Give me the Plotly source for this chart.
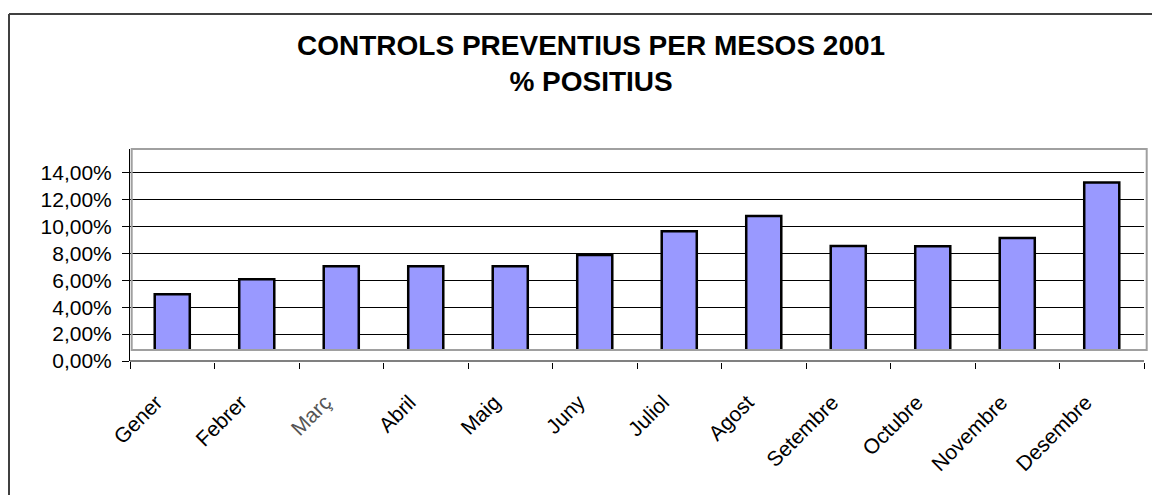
import plotly.graph_objects as go

months = ["Gener", "Febrer", "Març", "Abril", "Maig", "Juny", "Juliol",
          "Agost", "Setembre", "Octubre", "Novembre", "Desembre"]
positius = [0.0496, 0.0607, 0.0704, 0.0704, 0.0704, 0.0788, 0.0964,
            0.1078, 0.0855, 0.0852, 0.0914, 0.1326]
ytick_vals = [0, 0.02, 0.04, 0.06, 0.08, 0.10, 0.12, 0.14]

W, H = 1152, 495
L, R, T, B = 130, 1144, 149, 361   # plot area in pixels
PX_PER_UNIT = 1345.7               # pixels per 100% on the value axis


def px(x):
    return (x - L) / (R - L)


def py(y):
    return (B - y) / (B - T)


FONT = "Liberation Sans, Arial, sans-serif"

tick_text = [m if m != "Març" else '<span style="color:#555555">Març</span>' for m in months]

fig = go.Figure(go.Bar(
    x=months, y=positius,
    marker=dict(color="#9999FF", line=dict(color="black", width=2.5)),
))

fig.update_layout(
    width=W, height=H,
    margin=dict(l=L, r=W - R, t=T, b=H - B, pad=0),
    paper_bgcolor="white", plot_bgcolor="white",
    font=dict(family=FONT, size=21, color="black"),
    separators=",.",
    bargap=0.585,
    showlegend=False,
    shapes=[
        # outer chart frame (left and top edges visible)
        dict(type="line", xref="paper", yref="paper", x0=px(9), x1=px(9),
             y0=py(14), y1=py(H + 5), line=dict(color="#404040", width=2)),
        dict(type="line", xref="paper", yref="paper", x0=px(9), x1=px(W + 5),
             y0=py(14), y1=py(14), line=dict(color="#404040", width=2)),
        # white strip between plot-area box and category axis
        dict(type="rect", xref="paper", yref="paper", layer="above",
             x0=px(131), x1=px(1146), y0=py(363), y1=py(350),
             fillcolor="white", line=dict(width=0)),
        # category axis line
        dict(type="line", xref="paper", yref="paper", layer="above",
             x0=0, x1=1, y0=0, y1=0, line=dict(color="#808080", width=2)),
        # grey plot-area box
        dict(type="rect", xref="paper", yref="paper", layer="above",
             x0=px(131.7), x1=px(1146.7), y0=py(350), y1=py(149),
             line=dict(color="#A0A0A0", width=2)),
    ],
    annotations=[
        dict(text="<b>CONTROLS PREVENTIUS PER MESOS 2001<br>% POSITIUS</b>",
             xref="paper", yref="paper", x=px(591), y=py(63.5),
             xanchor="center", yanchor="middle", showarrow=False,
             font=dict(family=FONT, size=28, color="black")),
    ],
)

fig.update_xaxes(
    tickvals=months, ticktext=tick_text, tickangle=-45,
    showline=False,
    ticks="outside", tickson="boundaries", ticklen=7, tickcolor="black", tickwidth=1,
    ticklabelstandoff=24, ticklabelshift=-16,
    showgrid=False, tickfont=dict(size=21),
)
fig.update_yaxes(
    range=[0, (B - T) / PX_PER_UNIT], tickvals=ytick_vals, tickformat=".2%",
    showline=True, linecolor="black", linewidth=1,
    ticks="outside", ticklen=7, tickcolor="black",
    showgrid=True, gridcolor="black", gridwidth=1, zeroline=False,
    ticklabelstandoff=6, tickfont=dict(size=21),
)

fig.write_html("out.html", config={"displayModeBar": False})

# drop the browser's default page margin so the figure sits at the window origin
with open("out.html", encoding="utf-8") as f:
    page = f.read()
page = page.replace("<body>", '<body style="margin:0">', 1)
with open("out.html", "w", encoding="utf-8") as f:
    f.write(page)
